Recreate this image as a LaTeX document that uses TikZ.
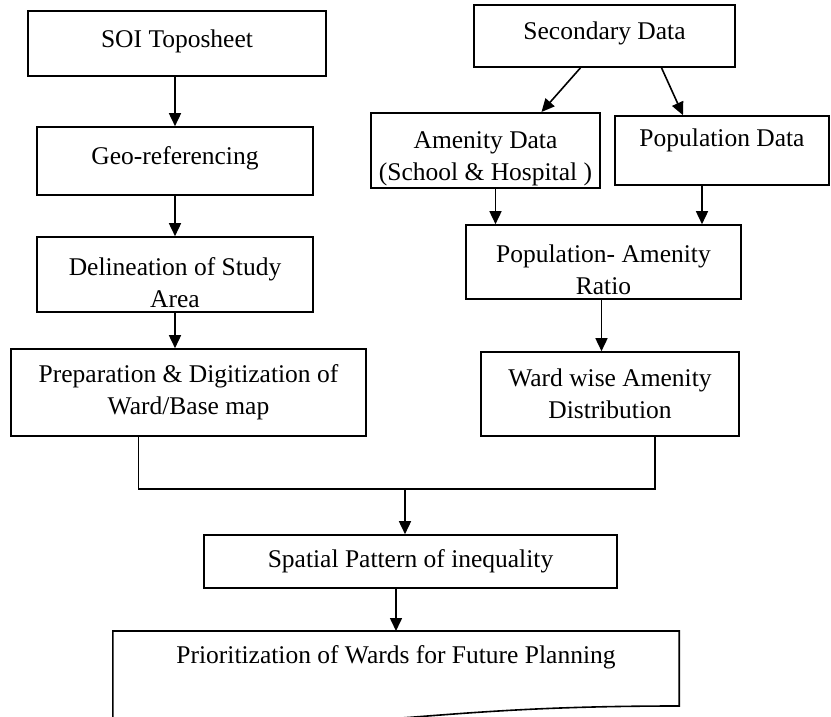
\documentclass[tikz,border=0pt]{standalone}
\usepackage{fontspec}
\setmainfont{Liberation Serif}
\usetikzlibrary{calc, arrows.meta, positioning}

\tikzset{
	box/.style={draw, line width=1.6pt, inner sep=2pt, align=center},
	flow/.style={->, line width=1.6pt},
}

\begin{document}
\begin{tikzpicture}[x=1pt, y=-1pt, >={Triangle[length=13pt,width=12pt]}]
	\fontsize{25.5}{32}\selectfont
	\useasboundingbox (0,0) rectangle (831,717);

	% --- left column ---
	\node[box, minimum width=298pt, minimum height=65pt, text depth=10pt] (soi) at (177,43.5) {SOI Toposheet};
	\node[box, minimum width=276pt, minimum height=68pt, text depth=10pt] (georef) at (175,161) {Geo-referencing};
	\node[box, minimum width=276pt, minimum height=75pt] (delin) at (175,274.5) {\rule{0pt}{34pt}Delineation of Study\\Area};
	\node[box, minimum width=355pt, minimum height=87pt] (prep) at (188.5,392.5) {Preparation \& Digitization of\\Ward/Base map};

	% --- right column ---
	\node[box, minimum width=261pt, minimum height=62pt, text depth=10pt] (secdata) at (604.5,36) {Secondary Data};
	\node[box, minimum width=229pt, minimum height=69pt] (amenity) at (485.5,150.5) {\rule{0pt}{34pt}Amenity Data\\(School \& Hospital )};
	\node[box, minimum width=214pt, minimum height=69pt, text depth=26pt] (popdata) at (722,150.5) {Population Data};
	\node[box, minimum width=275pt, minimum height=74pt] (ratio) at (603.5,262) {\rule{0pt}{34pt}Population- Amenity\\Ratio};
	\node[box, minimum width=258pt, minimum height=84pt] (wardwise) at (610,394) {Ward wise Amenity\\Distribution};

	% --- bottom ---
	\node[box, minimum width=413pt, minimum height=53pt] (spatial) at (410.5,561.5) {Spatial Pattern of inequality};
	\node[inner sep=2pt, minimum width=566pt, minimum height=52pt, anchor=north] (prior) at (396,631) {Prioritization of Wards for Future Planning};
	\draw[line width=1.6pt] (prior.north west) -- (prior.north east) -- ([yshift=-75pt]prior.north east)
		.. controls ([yshift=-75pt]prior.north) and ([yshift=-104pt]prior.north) .. ([yshift=-87pt]prior.north west) -- cycle;

	% --- connectors ---
	\draw[flow] (soi.south -| georef.north) -- (georef.north);
	\draw[flow] (georef.south) -- (delin.north);
	\draw[flow] (delin.south) -- (delin.south |- prep.north);
	\draw[flow] ([xshift=-24pt]secdata.south) -- ([xshift=56pt]amenity.north);
	\draw[flow] ([xshift=57pt]secdata.south) -- ([xshift=-39pt]popdata.north);
	\draw[flow] ([xshift=10pt]amenity.south) -- ([xshift=10pt]amenity.south |- ratio.north);
	\draw[flow] ([xshift=-20pt]popdata.south) -- ([xshift=-20pt]popdata.south |- ratio.north);
	\draw[flow] ([xshift=-2pt]ratio.south) -- ([xshift=-2pt]ratio.south |- wardwise.north);

	\coordinate (join) at (405,489);
	\draw[line width=1.6pt] ([xshift=-50pt]prep.south) |- (join) -| ([xshift=45pt]wardwise.south);
	\draw[flow] (join) -- (join |- spatial.north);
	\draw[flow] (prior.north |- spatial.south) -- (prior.north);
\end{tikzpicture}
\end{document}
